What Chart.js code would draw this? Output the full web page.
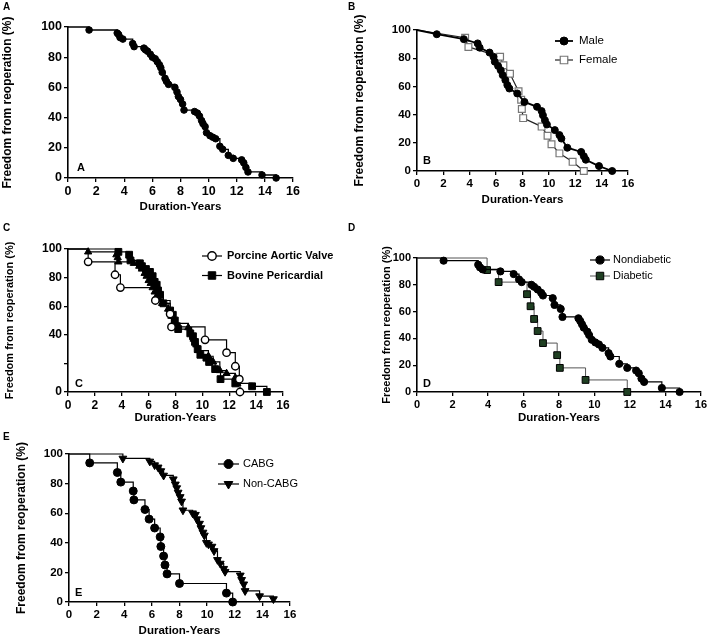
<!DOCTYPE html>
<html>
<head>
<meta charset="UTF-8">
<title>Freedom from reoperation</title>
<script src="https://cdn.jsdelivr.net/npm/chart.js@4.4.0/dist/chart.umd.min.js"></script>
<style>
  body { margin:0; background:#fff; width:709px; height:635px; overflow:hidden; position:relative;
         font-family:"Liberation Sans", Arial, Helvetica, sans-serif; }
  canvas { position:absolute; }
  .tag { position:absolute; font-weight:bold; color:#000; line-height:1; white-space:nowrap; }
</style>
</head>
<body>
<canvas id="cA" width="305" height="218" style="left:0px;top:0px"></canvas>
<canvas id="cB" width="288" height="211" style="left:352px;top:0px"></canvas>
<canvas id="cC" width="345" height="214" style="left:0px;top:215px"></canvas>
<canvas id="cD" width="331" height="214" style="left:378px;top:215px"></canvas>
<canvas id="cE" width="290" height="217" style="left:12px;top:425px"></canvas>

<div class="tag" style="left:3px;top:2px;font-size:10px">A</div>
<div class="tag" style="left:348px;top:2px;font-size:10px">B</div>
<div class="tag" style="left:3px;top:223px;font-size:10px">C</div>
<div class="tag" style="left:348px;top:223px;font-size:10px">D</div>
<div class="tag" style="left:3px;top:432px;font-size:10px">E</div>

<div class="tag" style="left:77px;top:162px;font-size:11px">A</div>
<div class="tag" style="left:423px;top:155px;font-size:11px">B</div>
<div class="tag" style="left:75px;top:378px;font-size:11px">C</div>
<div class="tag" style="left:423px;top:378px;font-size:11px">D</div>
<div class="tag" style="left:75px;top:587px;font-size:11px">E</div>

<script>
// ---- data (years, % free from reoperation) ----
const xTicks = [0, 2, 4, 6, 8, 10, 12, 14, 16]

// A: all patients
const A_time = [0, 1.5, 3.5, 3.6, 3.7, 3.9, 4.6, 4.7, 5.4, 5.5, 5.65, 5.85, 6.0, 6.2, 6.35, 6.5, 6.6, 6.7, 6.9, 7.0, 7.15, 7.6, 7.75, 7.85, 8.0, 8.15, 8.25, 9.0, 9.2, 9.35, 9.5, 9.6, 9.75, 9.85, 10.1, 10.3, 10.5, 10.8, 11.0, 11.4, 11.75, 12.35, 12.5, 12.65, 12.8, 13.8, 14.8]
const A_surv = [100, 98, 96, 95, 93, 92, 89, 87, 86, 85, 84, 82, 80, 79, 77, 75, 73, 70, 66, 64, 62, 60, 57, 54, 52, 49, 45, 44, 43, 41, 38, 36, 34, 30, 28, 27, 26, 21, 19, 15, 13, 12, 10, 7, 4, 2, 0]

// B: male / female
const B_maleTime = [0, 1.5, 3.55, 4.6, 4.75, 5.5, 5.8, 5.9, 6.15, 6.35, 6.5, 6.7, 6.85, 7.0, 7.6, 8.15, 9.1, 9.45, 9.55, 9.7, 9.85, 10.45, 10.8, 10.95, 11.4, 12.45, 12.65, 12.8, 13.8, 14.8]
const B_maleSurv = [100, 97, 93.5, 90.5, 87.5, 84, 81, 77.5, 74.5, 71.5, 68, 64.5, 61, 58.5, 55, 49, 45.5, 42.5, 39.5, 36, 33, 29, 25.5, 23, 16.5, 13.5, 10.5, 8, 3.5, 0]
const B_femaleTime = [0, 3.65, 3.9, 6.3, 6.55, 7.05, 7.7, 7.9, 7.95, 8.05, 9.45, 9.9, 10.2, 10.8, 11.8, 12.65]
const B_femaleSurv = [100, 94.5, 88, 81, 75, 69, 56.5, 50.5, 44, 37.5, 31.5, 25, 19, 12.5, 6.5, 0]

// C: valve type
const C_porcineTime = [0, 1.5, 3.5, 3.9, 6.5, 7.6, 7.7, 10.2, 11.8, 12.45, 12.75, 12.8]
const C_porcineSurv = [100, 91, 82, 73, 64, 54.5, 45.5, 36.5, 27.5, 18, 9, 0]
const C_bovineTime = [0, 3.75, 4.55, 4.65, 5.35, 5.5, 5.8, 6.1, 6.3, 6.45, 6.6, 6.7, 6.85, 7.1, 7.6, 7.8, 7.95, 8.1, 8.2, 9.1, 9.3, 9.45, 9.65, 9.85, 10.3, 10.5, 10.95, 11.35, 12.45, 13.7, 14.8]
const C_bovineSurv = [100, 98, 96, 92, 90, 88, 86, 84, 81, 77, 75, 71, 68, 62, 57, 54, 50, 46, 44, 41, 39, 35, 30, 26, 24, 21, 16, 9, 6, 4, 0]
const C_otherTime = [0, 1.5, 3.6, 3.7, 3.75, 4.9, 5.3, 5.5, 5.7, 5.85, 6.0, 6.15, 6.3, 6.45, 6.6, 6.75, 7.0, 7.45, 7.7, 7.9, 8.95, 9.2, 9.35, 9.55, 9.7, 10.45, 10.8, 11.3, 11.8, 12.45, 12.6]
const C_otherSurv = [100, 98, 96, 94, 91, 90, 88, 86, 83, 81, 78, 76, 73, 70, 67, 65, 62, 58, 53, 48, 45, 41, 37, 33, 29, 25, 21, 15, 13, 10, 6]
const C_yTicks = [0, 20, 40, 60, 80, 100]
const C_yLabels = ['0', '', '40', '60', '80', '100']

// D: diabetes
const D_nondiabTime = [0, 1.5, 3.45, 3.55, 3.7, 4.7, 5.45, 5.75, 5.9, 6.45, 6.6, 6.8, 7.0, 7.1, 7.65, 7.75, 8.1, 8.2, 9.1, 9.2, 9.3, 9.4, 9.6, 9.7, 9.85, 10.05, 10.25, 10.45, 10.8, 10.9, 11.4, 11.85, 12.35, 12.5, 12.65, 12.8, 13.8, 14.8]
const D_nondiabSurv = [100, 98, 95, 93, 91.5, 90, 88, 84, 82, 80, 78.5, 76.5, 74, 72, 70, 65, 62, 56, 55, 53, 50.5, 48, 45, 42.5, 39, 37, 35.5, 33, 29, 26.5, 21, 18, 16, 14, 10, 7.5, 3, 0]
const D_diabTime = [0, 3.95, 4.6, 6.2, 6.4, 6.6, 6.8, 7.1, 7.9, 8.05, 9.5, 11.85]
const D_diabSurv = [100, 91, 82, 73, 64, 54.5, 45.5, 36.5, 27.5, 18, 9, 0]

// E: CABG
const E_cabgTime = [0, 1.5, 3.5, 3.75, 4.65, 4.7, 5.5, 5.8, 6.2, 6.6, 6.65, 6.85, 6.95, 7.1, 8.0, 11.4, 11.85]
const E_cabgSurv = [100, 94, 87.5, 81, 75, 69, 62.5, 56, 50, 44, 37.5, 31, 25, 19, 12.5, 6, 0]
const E_nonCabgTime = [0, 3.9, 5.85, 6.2, 6.45, 6.65, 6.85, 7.55, 7.7, 7.8, 7.9, 8.05, 8.15, 8.25, 8.95, 9.15, 9.25, 9.45, 9.55, 9.7, 9.8, 9.95, 10.1, 10.35, 10.5, 10.75, 10.95, 11.2, 11.3, 12.4, 12.5, 12.65, 12.75, 13.8, 14.8]
const E_nonCabgSurv = [100, 97, 95, 92.5, 91, 88.5, 85.5, 83, 79.5, 77, 74, 71, 68, 62, 60, 59, 56, 53, 50, 47, 45, 40, 39, 37.5, 34.5, 28.5, 26, 22.5, 20.5, 18, 15, 12, 7.5, 4, 2]

const FONT = '"Liberation Sans", Arial, Helvetica, sans-serif'

// draws a little line+marker legend at a fixed spot inside the canvas
const kmLegend = {
  id: 'kmLegend',
  afterDraw(chart, args, opts) {
    if (!opts || !opts.items) return
    const ctx = chart.ctx
    ctx.save()
    opts.items.forEach((it, i) => {
      const d = chart.data.datasets[it.ds]
      const m = d.mk
      const y = opts.y + i * opts.gap
      ctx.strokeStyle = d.borderColor
      ctx.lineWidth = d.borderWidth
      ctx.beginPath(); ctx.moveTo(opts.x, y); ctx.lineTo(opts.x + opts.len, y); ctx.stroke()
      ctx.fillStyle = m.fill
      ctx.strokeStyle = m.stroke
      ctx.lineWidth = m.bw
      Chart.helpers.drawPoint(ctx, {pointStyle: m.style, radius: m.r + 0.5, rotation: m.rot || 0, borderWidth: m.bw}, opts.x + opts.len / 2, y)
      ctx.fillStyle = '#000'
      ctx.font = opts.font
      ctx.textBaseline = 'middle'
      ctx.textAlign = 'left'
      ctx.fillText(it.label, opts.x + opts.len + opts.pad, y)
    })
    ctx.restore()
  }
}
Chart.register(kmLegend)

function series(time, surv, m) {
  return {
    data: time.map((t, i) => ({x: t, y: surv[i]})),
    borderColor: m.line, borderWidth: m.lw,
    stepped: m.stepped ? true : false, tension: 0, fill: false,
    pointStyle: m.style, pointRotation: m.rot || 0,
    pointRadius: c => (c.dataIndex === 0 ? 0 : m.r),
    pointHoverRadius: c => (c.dataIndex === 0 ? 0 : m.r),
    pointBackgroundColor: m.fill, pointBorderColor: m.stroke, pointBorderWidth: m.bw,
    clip: false, mk: m
  }
}

function makeChart(id, P) {
  const tickFont = {family: FONT, size: P.tick, weight: 'bold'}
  return new Chart(document.getElementById(id), {
    type: 'line',
    data: {datasets: P.datasets},
    options: {
      responsive: false, animation: false, devicePixelRatio: 1,
      layout: {padding: {left: 0, right: P.pr, top: P.pt, bottom: 0}},
      plugins: {legend: {display: false}, tooltip: {enabled: false}, kmLegend: P.legend || {}},
      scales: {
        x: {
          type: 'linear', min: 0, max: 16,
          afterFit: s => { s.height = P.xh },
          afterBuildTicks: s => { s.ticks = xTicks.map(v => ({value: v})) },
          ticks: {color: '#000', font: tickFont, padding: 2, maxRotation: 0, autoSkip: false},
          grid: {drawOnChartArea: false, drawTicks: true, tickLength: 4, color: '#000', lineWidth: 1.3},
          border: {color: '#000', width: 1.6},
          title: {display: true, text: 'Duration-Years', color: '#000',
                  font: {family: FONT, size: 11.5, weight: 'bold'}, padding: {top: 0, bottom: 4}}
        },
        y: {
          type: 'linear', min: 0, max: 100,
          afterFit: s => { s.width = P.yw },
          afterBuildTicks: s => { s.ticks = P.yTicks.map(v => ({value: v})) },
          ticks: {color: '#000', font: tickFont, padding: 2,
                  callback: (v) => (P.yLabels ? P.yLabels[P.yTicks.indexOf(v)] : String(v))},
          grid: {drawOnChartArea: false, drawTicks: true, tickLength: 4, color: '#000', lineWidth: 1.3},
          border: {color: '#000', width: 1.6},
          title: {display: true, text: 'Freedom from reoperation (%)', color: '#000',
                  font: {family: FONT, size: P.ytSize, weight: 'bold'}, padding: {top: P.ytPad, bottom: 0}}
        }
      }
    }
  })
}

const yTicks = [0, 20, 40, 60, 80, 100]

makeChart('cA', {
  pr: 12, pt: 27, yw: 68, xh: 40, tick: 12.5, ytSize: 12, ytPad: 0, yTicks: yTicks,
  datasets: [
    series(A_time, A_surv, {line: '#000', lw: 1.3, stepped: true, style: 'circle', r: 3.3, fill: '#000', stroke: '#000', bw: 1})
  ]
})

makeChart('cB', {
  pr: 12, pt: 30, yw: 65, xh: 40, tick: 11.5, ytSize: 12, ytPad: 0, yTicks: yTicks,
  datasets: [
    series(B_maleTime, B_maleSurv, {line: '#000', lw: 1.8, stepped: false, style: 'circle', r: 3.5, fill: '#000', stroke: '#000', bw: 1}),
    series(B_femaleTime, B_femaleSurv, {line: '#222', lw: 1.2, stepped: false, style: 'rect', r: 4.8, fill: '#fff', stroke: '#777', bw: 1.2})
  ],
  legend: {x: 203, y: 41, gap: 19, len: 18, pad: 6, font: '11.5px ' + FONT,
           items: [{ds: 0, label: 'Male'}, {ds: 1, label: 'Female'}]}
})

makeChart('cC', {
  pr: 62, pt: 34, yw: 68, xh: 37, tick: 12, ytSize: 11, ytPad: 3, yTicks: C_yTicks, yLabels: C_yLabels,
  datasets: [
    series(C_porcineTime, C_porcineSurv, {line: '#000', lw: 1.2, stepped: true, style: 'circle', r: 3.7, fill: '#fff', stroke: '#000', bw: 1.4}),
    series(C_bovineTime, C_bovineSurv, {line: '#000', lw: 1.2, stepped: true, style: 'rect', r: 4.8, fill: '#000', stroke: '#000', bw: 1}),
    series(C_otherTime, C_otherSurv, {line: '#000', lw: 1.2, stepped: true, style: 'triangle', r: 4.2, fill: '#000', stroke: '#000', bw: 1})
  ],
  legend: {x: 202, y: 41, gap: 19.5, len: 20, pad: 5, font: 'bold 11px ' + FONT,
           items: [{ds: 0, label: 'Porcine Aortic Valve'}, {ds: 1, label: 'Bovine Pericardial'}]}
})

makeChart('cD', {
  pr: 6, pt: 43, yw: 39, xh: 37, tick: 11, ytSize: 11, ytPad: 2, yTicks: yTicks,
  datasets: [
    series(D_nondiabTime, D_nondiabSurv, {line: '#000', lw: 1.2, stepped: true, style: 'circle', r: 3.6, fill: '#000', stroke: '#000', bw: 1}),
    series(D_diabTime, D_diabSurv, {line: '#555', lw: 1, stepped: true, style: 'rect', r: 4.8, fill: '#1f3f22', stroke: '#000', bw: 1})
  ],
  legend: {x: 212, y: 45, gap: 16, len: 20, pad: 3, font: '11px ' + FONT,
           items: [{ds: 0, label: 'Nondiabetic'}, {ds: 1, label: 'Diabetic'}]}
})

makeChart('cE', {
  pr: 12, pt: 29, yw: 57, xh: 40, tick: 11.5, ytSize: 12, ytPad: 2, yTicks: yTicks,
  datasets: [
    series(E_cabgTime, E_cabgSurv, {line: '#000', lw: 1.2, stepped: true, style: 'circle', r: 4, fill: '#000', stroke: '#000', bw: 1}),
    series(E_nonCabgTime, E_nonCabgSurv, {line: '#000', lw: 1.2, stepped: true, style: 'triangle', rot: 180, r: 4.5, fill: '#000', stroke: '#000', bw: 1})
  ],
  legend: {x: 206, y: 39, gap: 20, len: 21, pad: 4, font: '11px ' + FONT,
           items: [{ds: 0, label: 'CABG'}, {ds: 1, label: 'Non-CABG'}]}
})
</script>
</body>
</html>
